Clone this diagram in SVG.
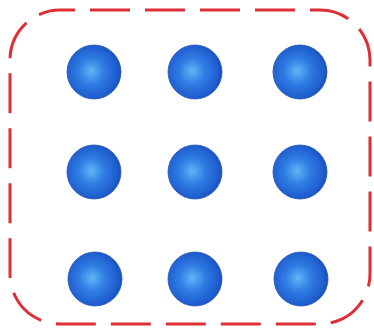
<svg xmlns="http://www.w3.org/2000/svg" width="374" height="332" viewBox="0 0 374 332">
  <defs>
    <radialGradient id="ballGrad" cx="0.45" cy="0.5" r="0.55" fx="0.45" fy="0.48">
      <stop offset="0" stop-color="#5fb6f6"/>
      <stop offset="0.45" stop-color="#2f7be3"/>
      <stop offset="0.85" stop-color="#1f5fd0"/>
      <stop offset="1" stop-color="#1a4fb8"/>
    </radialGradient>
    <style>
      .frame { fill: none; stroke: #dc2f36; stroke-width: 3; stroke-dasharray: 40 15; stroke-dashoffset: 25; }
      .ball { fill: url(#ballGrad); stroke: #2456b0; stroke-width: 0.8; }
    </style>
  </defs>
  <rect width="374" height="332" fill="#ffffff"/>
  <g id="frame">
    <rect class="frame" x="10" y="10" width="360" height="314" rx="50" ry="50"/>
  </g>
  <g id="ball-1-1"><circle class="ball" cx="94" cy="72" r="27"/></g>
  <g id="ball-1-2"><circle class="ball" cx="195" cy="72" r="27"/></g>
  <g id="ball-1-3"><circle class="ball" cx="300" cy="72" r="27"/></g>
  <g id="ball-2-1"><circle class="ball" cx="94" cy="172" r="27"/></g>
  <g id="ball-2-2"><circle class="ball" cx="195" cy="172" r="27"/></g>
  <g id="ball-2-3"><circle class="ball" cx="300" cy="172" r="27"/></g>
  <g id="ball-3-1"><circle class="ball" cx="95" cy="279" r="27"/></g>
  <g id="ball-3-2"><circle class="ball" cx="195" cy="279" r="27"/></g>
  <g id="ball-3-3"><circle class="ball" cx="301" cy="279" r="27"/></g>
  <g id="connectors"></g>
</svg>
